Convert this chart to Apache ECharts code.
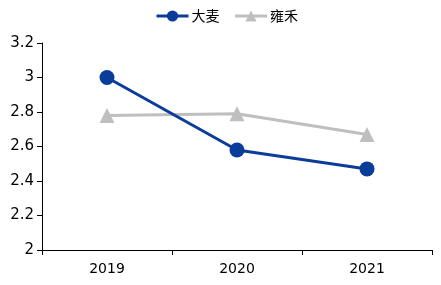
<!DOCTYPE html>
<html><head><meta charset="utf-8">
<script src="https://cdn.jsdelivr.net/npm/echarts@6/dist/echarts.min.js"></script>
<style>html,body{margin:0;padding:0;background:#fff}#c{width:441px;height:285px}</style>
</head><body><div id="c"></div>
<script>
var categories = ['2019', '2020', '2021'];
var seriesNames = ['大麦', '雍禾'];
var damai = [3.0, 2.58, 2.47];
var yonghe = [2.78, 2.79, 2.67];
var yTicks = ['2', '2.2', '2.4', '2.6', '2.8', '3', '3.2'];

var chart = echarts.init(document.getElementById('c'), null, {renderer: 'canvas'});
chart.setOption({
  animation: false,
  backgroundColor: '#fff',
  legend: {
    top: 4, left: 150, itemGap: 14, itemWidth: 32, itemHeight: 14,
    lineStyle: {width: 3},
    textStyle: {fontFamily: 'Noto Sans CJK SC', fontSize: 14, color: '#000', padding: [0, 0, 0, -2]},
    data: [seriesNames[0], seriesNames[1]]
  },
  grid: {left: 42, right: 9, top: 43, bottom: 35},
  xAxis: {
    type: 'category', data: categories, boundaryGap: true,
    axisLine: {lineStyle: {color: '#000', width: 1}},
    axisTick: {show: true, alignWithLabel: false, length: 5, lineStyle: {color: '#000'}},
    axisLabel: {fontFamily: 'DejaVu Sans', fontSize: 14, color: '#000', margin: 12}
  },
  yAxis: {
    type: 'value', min: 2, max: 3.2, interval: 0.2,
    axisLine: {show: true, lineStyle: {color: '#000', width: 1}},
    axisTick: {show: true, length: 5, lineStyle: {color: '#000'}},
    splitLine: {show: false},
    axisLabel: {fontFamily: 'DejaVu Sans', fontSize: 15, color: '#000', margin: 8,
      formatter: function (v) { var i = Math.round((v - 2) / 0.2); return yTicks[i]; }}
  },
  series: [
    {name: seriesNames[0], type: 'line', data: damai, symbol: 'circle', symbolSize: 15,
      lineStyle: {color: '#0a3d99', width: 3}, itemStyle: {color: '#0a3d99'}, z: 3},
    {name: seriesNames[1], type: 'line', data: yonghe, symbol: 'triangle', symbolSize: 15,
      lineStyle: {color: '#bfbfbf', width: 3}, itemStyle: {color: '#bfbfbf'}, z: 2}
  ]
});
</script></body></html>
